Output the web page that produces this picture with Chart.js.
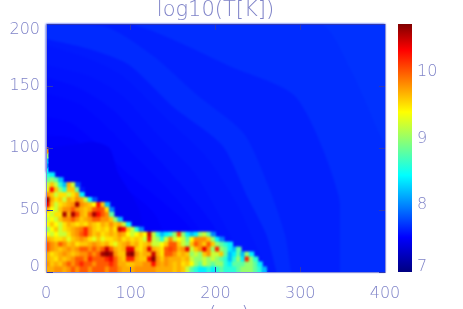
<!DOCTYPE html>
<html>
<head>
<meta charset="utf-8">
<style>
  html, body { margin: 0; padding: 0; background: #fff; }
  #wrap { position: relative; width: 463px; height: 309px; overflow: hidden; }
  canvas { position: absolute; left: 0; top: 0; }
</style>
<script src="https://cdn.jsdelivr.net/npm/chart.js@4"></script>
</head>
<body>
<div id="wrap">
  <canvas id="map" width="463" height="309"></canvas>
  <canvas id="bar" width="463" height="309"></canvas>
</div>
<script>
var titleText = 'log10(T[K])';
var xTitleText = '\u00a0\u00a0\u00a0\u00a0(pc)';
var xTicks = [0, 100, 200, 300, 400];
var yTicks = [0, 50, 100, 150, 200];
var barTicks = [7, 8, 9, 10];
var barMin = 7;
var barMax = 10.72;

// colour table of the bar, position 0..1 going up
var stopPos = [0, 0.14, 0.39, 0.645, 0.895, 1];
var stopRgb = [[0, 0, 128], [0, 0, 255], [0, 255, 255], [255, 255, 0], [255, 0, 0], [128, 0, 0]];

// hot gas, log10(T)*10, rows from top to bottom. rows are 4 high, cells 5 wide, from x = 0
// a row stops where the flame front ends
var flameR19 = [86, 84];
var flameR18 = [88, 90, 88, 82];
var flameR17 = [92, 96, 92, 86, 82, 97, 92, 78];
var flameR16 = [93, 103, 96, 90, 86, 96, 96, 88, 76];
var flameR15 = [98, 96, 92, 95, 95, 92, 95, 97, 84];
var flameR14 = [106, 97, 95, 96, 92, 97, 96, 98, 97, 92, 84, 78];
var flameR13 = [104, 96, 92, 95, 96, 97, 98, 106, 98, 97, 96, 94, 103, 96, 82];
var flameR12 = [97, 94, 92, 96, 98, 98, 100, 98, 97, 96, 97, 100, 101, 100, 95, 80];
var flameR11 = [94, 92, 95, 95, 106, 97, 106, 101, 97, 96, 100, 106, 103, 100, 98, 88];
var flameR10 = [92, 94, 92, 96, 98, 98, 100, 98, 96, 97, 98, 100, 100, 98, 98, 96, 90, 82];
var flameR9 = [94, 96, 94, 92, 95, 97, 96, 95, 96, 95, 97, 96, 95, 97, 96, 98, 96, 97, 92, 84];
var flameR8 = [90, 94, 96, 92, 95, 96, 97, 98, 99, 102, 98, 96, 95, 96, 95, 97, 95, 105, 103, 96, 92, 86, 80];
var flameR7 = [94, 92, 94, 92, 92, 95, 97, 98, 100, 102, 98, 96, 97, 95, 96, 97, 96, 98, 97, 94, 92, 94, 96, 94, 105, 92, 86, 82, 84, 86, 90, 101, 90, 84, 82, 84, 90, 92, 88, 80];
var flameR6 = [97, 96, 95, 95, 96, 93, 96, 97, 98, 97, 95, 93, 96, 93, 95, 95, 96, 97, 95, 96, 95, 96, 95, 92, 103, 92, 90, 86, 92, 98, 92, 94, 92, 88, 94, 98, 98, 98, 96, 90, 84, 80];
var flameR5 = [100, 98, 97, 100, 98, 96, 97, 95, 96, 96, 97, 98, 97, 96, 97, 95, 93, 96, 97, 98, 96, 97, 95, 96, 97, 92, 92, 94, 96, 100, 100, 96, 92, 90, 96, 100, 98, 96, 100, 96, 90, 88, 86, 84];
var flameR4 = [100, 98, 97, 96, 97, 98, 97, 98, 100, 100, 98, 100, 98, 100, 105, 100, 97, 96, 97, 104, 104, 96, 95, 97, 104, 97, 96, 95, 100, 101, 100, 97, 98, 104, 92, 96, 98, 104, 98, 90, 102, 90, 88, 84, 82, 88];
var flameR3 = [97, 95, 96, 97, 98, 97, 96, 97, 98, 98, 100, 98, 100, 106, 107, 106, 98, 96, 96, 106, 107, 98, 96, 97, 97, 105, 97, 95, 100, 100, 98, 96, 97, 96, 90, 92, 90, 96, 98, 92, 92, 96, 88, 82, 84, 88, 82, 90, 84];
var flameR2 = [97, 96, 95, 97, 96, 97, 98, 100, 100, 98, 102, 100, 100, 100, 102, 104, 100, 97, 96, 102, 102, 97, 96, 96, 103, 107, 98, 96, 98, 97, 97, 97, 96, 97, 92, 90, 90, 92, 90, 92, 90, 88, 86, 82, 86, 90, 84, 102, 90, 86];
var flameR1 = [98, 96, 97, 96, 98, 100, 98, 100, 102, 100, 100, 98, 100, 100, 100, 102, 100, 97, 97, 96, 96, 97, 97, 98, 98, 103, 98, 97, 98, 97, 96, 97, 95, 96, 94, 90, 88, 92, 90, 88, 90, 90, 86, 84, 88, 88, 88, 90, 90, 88, 84];
var flameR0 = [97, 97, 98, 98, 97, 98, 100, 98, 100, 100, 98, 100, 100, 100, 98, 100, 100, 98, 97, 97, 97, 98, 98, 98, 98, 98, 97, 97, 97, 97, 96, 97, 96, 92, 88, 86, 84, 84, 86, 84, 86, 88, 86, 86, 86, 88, 90, 90, 90, 88, 86, 82];
var flameRows = [flameR19, flameR18, flameR17, flameR16, flameR15, flameR14, flameR13, flameR12, flameR11, flameR10,
  flameR9, flameR8, flameR7, flameR6, flameR5, flameR4, flameR3, flameR2, flameR1, flameR0];

// thin hot strip against the left edge, y bottom of each cell and log10(T)*10
var edgeY = [80, 84, 88, 92, 96];
var edgeVal = [84, 80, 82, 90, 98];

// surrounding gas as nested temperature bands, outermost first. each one is the
// outline of the area below it: level, x and y along the outline
var bandLevels = [7.70, 7.68, 7.635, 7.675, 7.615, 7.6, 7.585, 7.565, 7.55, 7.53, 7.505, 7.475];
var bandX = [
  [0, 400, 400],
  [0, 323, 358, 393, 400, 400],
  [0, 100, 220, 295, 345, 347],
  [0, 70, 125, 178, 233, 262, 282, 289],
  [0, 50, 98, 152, 208, 238, 260, 272],
  [0, 50, 90, 140, 190, 225, 245, 262],
  [0, 50, 90, 130, 175, 205, 225, 245],
  [0, 40, 80, 120, 160, 195, 215, 228],
  [0, 40, 75, 110, 150, 180, 195, 205],
  [0, 30, 65, 95, 140, 170, 190],
  [0, 30, 60, 90, 130, 150],
  [0, 35, 55, 75, 85, 110, 120]
];
var bandY = [
  [200, 200, 0],
  [200, 200, 165, 112, 100, 0],
  [200, 200, 165, 141, 62, 0],
  [200, 198, 175, 143, 112, 70, 30, 0],
  [188, 180, 167, 132, 102, 60, 30, 0],
  [183, 172, 158, 125, 92, 55, 25, 0],
  [167, 158, 142, 112, 80, 45, 20, 0],
  [157, 148, 130, 100, 70, 40, 15, 0],
  [144, 135, 115, 90, 62, 35, 15, 0],
  [125, 120, 100, 80, 55, 35, 0],
  [110, 108, 92, 70, 45, 0],
  [100, 103, 105, 100, 80, 50, 0]
];

var inkColor = '#7f83c8';
var tickColor = '#3038b0';
var edgeColor = '#8a8fd8';
var labelFont = { family: "'DejaVu Sans'", size: 16, weight: '200' };
var titleFont = { family: "'DejaVu Sans'", size: 21, weight: '200' };

function toColor(v) {
  var f = (v - barMin) / (barMax - barMin);
  var i = 0;
  while (i < stopPos.length - 2 && f > stopPos[i + 1]) i++;
  var t = Math.max(0, Math.min(1, (f - stopPos[i]) / (stopPos[i + 1] - stopPos[i])));
  var a = stopRgb[i], b = stopRgb[i + 1];
  return 'rgb(' + Math.round(a[0] + (b[0] - a[0]) * t) + ',' + Math.round(a[1] + (b[1] - a[1]) * t) + ',' + Math.round(a[2] + (b[2] - a[2]) * t) + ')';
}

function gridToBars(rows, w, h, scale) {
  var cells = [], colors = [];
  rows.forEach(function (row, idx) {
    var r = rows.length - 1 - idx;
    row.forEach(function (v, c) {
      cells.push({ x: c * w + w / 2, y: [r * h, r * h + h] });
      colors.push(toColor(v / scale));
    });
  });
  return { data: cells, backgroundColor: colors };
}

function layer(grid, axis, extra) {
  return Object.assign({
    data: grid.data,
    backgroundColor: grid.backgroundColor,
    xAxisID: axis,
    yAxisID: 'yMarks',
    grouped: false,
    borderWidth: 0,
    inflateAmount: 0.6,
    categoryPercentage: 1,
    barPercentage: 1
  }, extra || {});
}

function bandDataset(i) {
  return {
    type: 'line',
    data: bandX[i].map(function (x, k) { return { x: x, y: bandY[i][k] }; }),
    xAxisID: 'xGas',
    yAxisID: 'yMarks',
    backgroundColor: toColor(bandLevels[i]),
    borderWidth: 0,
    pointRadius: 0,
    tension: 0.25,
    fill: 'origin'
  };
}

function fixed(prop, size) {
  return function (s) { s[prop] = size; };
}

var hiddenX = { type: 'linear', display: false, offset: false, min: 0, max: 400 };
var edgeGrid = {
  data: edgeY.map(function (y) { return { x: 1, y: [y, y + 4] }; }),
  backgroundColor: edgeVal.map(function (v) { return toColor(v / 10); })
};
var frameTop = { display: true, color: tickColor, width: 1, z: 2 };
var frameSide = { display: true, color: edgeColor, width: 1, z: 2 };

// chart.js paints the last dataset first
var datasets = [
  layer(edgeGrid, 'xEdge', { maxBarThickness: 2 }),
  layer(gridToBars(flameRows, 5, 4, 10), 'xFlame')
];
for (var b = bandLevels.length - 1; b >= 0; b--) datasets.push(bandDataset(b));

// the reference is a resampled image, soften what is painted so far the same way
var softFlame = {
  id: 'softFlame',
  afterDatasetDraw: function (chart, args) {
    if (args.index !== 1) return;
    var a = chart.chartArea, c = chart.ctx;
    c.save();
    c.filter = 'blur(1.1px)';
    c.drawImage(chart.canvas, a.left, a.top, a.width, a.height, a.left, a.top, a.width, a.height);
    c.restore();
  }
};

new Chart(document.getElementById('map'), {
  type: 'bar',
  data: { datasets: datasets },
  plugins: [softFlame],
  options: {
    responsive: false,
    animation: false,
    events: [],
    layout: { padding: 0 },
    plugins: { legend: { display: false }, title: { display: false }, tooltip: { enabled: false } },
    scales: {
      xGas: hiddenX,
      xFlame: hiddenX,
      xEdge: hiddenX,
      x: {
        type: 'linear', position: 'bottom', offset: false, min: 0, max: 400,
        afterBuildTicks: function (s) { s.ticks = xTicks.map(function (v) { return { value: v }; }); },
        afterFit: fixed('height', 37),
        border: frameSide,
        grid: { offset: false, drawOnChartArea: false, tickLength: -5, color: tickColor, z: 2 },
        ticks: { color: inkColor, font: labelFont, padding: 17, maxRotation: 0, autoSkip: false },
        title: { display: true, text: xTitleText, color: inkColor, font: titleFont, padding: { top: 0, bottom: -19 } }
      },
      xTop: {
        type: 'linear', position: 'top', offset: false, min: 0, max: 400,
        afterBuildTicks: function (s) { s.ticks = xTicks.map(function (v) { return { value: v }; }); },
        afterFit: fixed('height', 24),
        border: frameTop,
        grid: { offset: false, drawOnChartArea: false, tickLength: -6, color: tickColor, z: 2 },
        ticks: { display: false },
        title: { display: true, text: titleText, color: inkColor, font: titleFont, padding: { top: -2, bottom: 0 } }
      },
      yMarks: {
        type: 'linear', position: 'left', min: 0, max: 200, weight: 0,
        afterBuildTicks: function (s) { s.ticks = yTicks.map(function (v) { return { value: v }; }); },
        afterFit: fixed('width', 0),
        border: frameSide,
        grid: { drawOnChartArea: false, tickLength: -7, color: tickColor, z: 2 },
        ticks: { display: false }
      },
      y: {
        type: 'linear', position: 'left', min: 0, max: 200, weight: 1,
        // first and last labels sit inside the axis ends
        afterBuildTicks: function (s) {
          s.ticks = yTicks.map(function (v) {
            return { value: v === 0 ? 4.5 : (v === 200 ? 195 : v) };
          });
        },
        afterFit: fixed('width', 46),
        border: { display: false },
        grid: { display: false, drawTicks: false },
        ticks: {
          color: inkColor, font: labelFont, padding: 6, autoSkip: false,
          callback: function (v) { return Math.round(v / 50) * 50; }
        }
      },
      yRight: {
        type: 'linear', position: 'right', min: 0, max: 200,
        afterBuildTicks: function (s) { s.ticks = yTicks.map(function (v) { return { value: v }; }); },
        afterFit: fixed('width', 78),
        border: frameSide,
        grid: { drawOnChartArea: false, tickLength: -6, color: tickColor, z: 2 },
        ticks: { display: false }
      }
    }
  }
});

new Chart(document.getElementById('bar'), {
  type: 'bar',
  data: {
    labels: [''],
    datasets: [{
      data: [[barMin, barMax]],
      borderWidth: 0,
      categoryPercentage: 1,
      barPercentage: 1,
      backgroundColor: function (ctx) {
        var area = ctx.chart.chartArea;
        if (!area) return '#00f';
        var g = ctx.chart.ctx.createLinearGradient(0, area.bottom, 0, area.top);
        stopPos.forEach(function (p, i) { g.addColorStop(p, 'rgb(' + stopRgb[i].join(',') + ')'); });
        return g;
      }
    }]
  },
  options: {
    responsive: false,
    animation: false,
    events: [],
    layout: { padding: { left: 398, top: 24, bottom: 37, right: 0 } },
    plugins: { legend: { display: false }, title: { display: false }, tooltip: { enabled: false } },
    scales: {
      x: { display: false },
      y: {
        type: 'linear', position: 'right', min: barMin, max: barMax,
        afterBuildTicks: function (s) {
          s.ticks = barTicks.map(function (v) { return { value: v === 7 ? 7.08 : v }; });
        },
        afterFit: fixed('width', 51),
        border: { display: false },
        grid: { display: false, drawTicks: false },
        ticks: {
          color: inkColor, font: labelFont, padding: 5, autoSkip: false,
          callback: function (v) { return Math.floor(v); }
        }
      }
    }
  }
});
</script>
</body>
</html>
